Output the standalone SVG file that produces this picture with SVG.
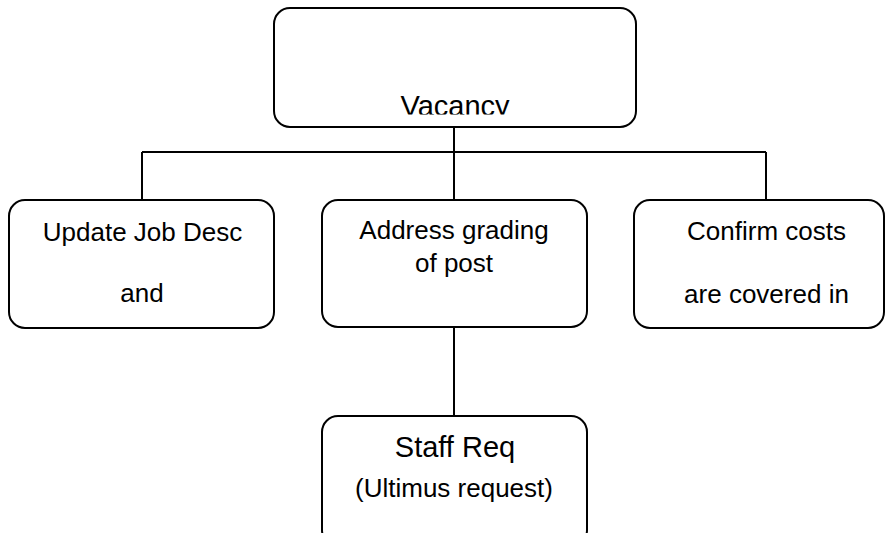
<svg xmlns="http://www.w3.org/2000/svg" width="888" height="533" viewBox="0 0 888 533">
<style>
.box{fill:#fff;stroke:#000;stroke-width:2}
.ln{fill:none;stroke:#000;stroke-width:2}
text{font-family:"Liberation Sans",Arial,sans-serif;fill:#000;text-anchor:middle}
.t{font-size:26px}
.big{font-size:29px}
</style>
<defs>
<clipPath id="vclip"><rect x="274" y="0" width="362" height="114.5"/></clipPath>
</defs>
<rect width="888" height="533" fill="#fff"/>
<g id="connectors">
<line class="ln" x1="454" y1="127" x2="454" y2="200"/>
<line class="ln" x1="142" y1="152" x2="766" y2="152"/>
<line class="ln" x1="142" y1="152" x2="142" y2="200"/>
<line class="ln" x1="766" y1="152" x2="766" y2="200"/>
<line class="ln" x1="454" y1="327" x2="454" y2="416"/>
</g>
<g id="vacancy">
<rect class="box" x="274" y="8" width="362" height="119" rx="16"/>
<text class="big" x="455" y="116" clip-path="url(#vclip)">Vacancy</text>
</g>
<g id="update-job-desc">
<rect class="box" x="9" y="200" width="265" height="128" rx="16"/>
<text class="t" x="142.5" y="241">Update Job Desc</text>
<text class="t" x="142" y="302">and</text>
</g>
<g id="address-grading">
<rect class="box" x="322" y="200" width="265" height="127" rx="16"/>
<text class="t" x="454" y="239">Address grading</text>
<text class="t" x="454" y="272">of post</text>
</g>
<g id="confirm-costs">
<rect class="box" x="634" y="200" width="250" height="128" rx="16"/>
<text class="t" x="766.5" y="240">Confirm costs</text>
<text class="t" x="766.5" y="303">are covered in</text>
</g>
<g id="staff-req">
<rect class="box" x="322" y="416" width="265" height="130" rx="16"/>
<text class="big" x="455" y="457">Staff Req</text>
<text class="t" x="454" y="497">(Ultimus request)</text>
</g>
</svg>
